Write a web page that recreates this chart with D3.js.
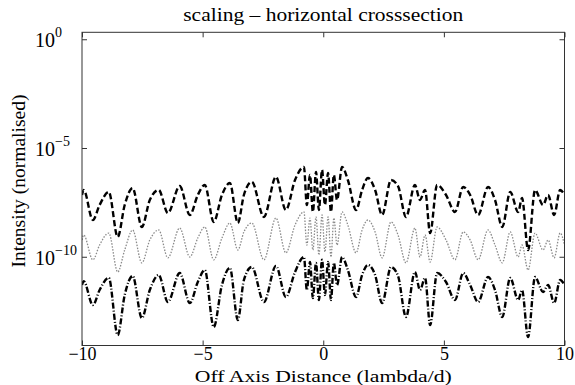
<!DOCTYPE html>
<html><head><meta charset="utf-8">
<script src="https://cdn.jsdelivr.net/npm/d3@7"></script>
<style>
html,body{margin:0;padding:0;background:#fff;}
svg{display:block;}
text{font-family:"Liberation Serif","Times New Roman",serif;fill:#000;}
</style></head>
<body>
<svg id="chart" width="575" height="385"></svg>
<script>
// Off-axis distance (lambda/d) sample positions
const xValues = [-10,-9.93,-9.55,-9.27,-8.89,-8.52,-8.23,-7.90,-7.52,-7.19,-6.82,-6.44,-5.95,-5.53,-5.20,-4.91,-4.54,-4.20,-3.87,-3.54,-3.29,-2.96,-2.46,-1.96,-1.55,-1.17,
 -0.80,-0.68,-0.55,-0.43,-0.30,-0.18,-0.05,0.07,0.20,0.32,0.44,0.57,0.78,1.02,1.36,1.61,1.85,2.15,2.44,2.81,3.10,3.43,3.80,4.01,4.22,4.43,
 4.72,5.09,5.46,5.80,6.09,6.42,6.83,7.12,7.42,7.75,8.08,8.24,8.49,8.78,9.11,9.32,9.57,9.82,10.0];
// log10 of normalised intensity
const upperLog10 = [-7.16,-6.93,-8.31,-7.62,-7.02,-9.09,-7.62,-6.84,-8.63,-7.39,-6.93,-7.99,-6.75,-8.08,-7.16,-6.70,-8.40,-7.16,-6.61,-8.45,-7.16,-6.56,-8.17,-6.33,-7.85,-6.47,
 -5.87,-7.62,-6.24,-7.94,-6.10,-7.85,-6.01,-7.62,-6.15,-7.94,-6.24,-7.39,-5.87,-6.47,-7.85,-6.93,-6.38,-6.93,-8.08,-6.47,-6.75,-8.17,-6.70,-7.39,-6.93,-8.91,
 -6.70,-7.16,-7.94,-6.79,-7.16,-8.08,-6.79,-7.39,-8.63,-7.02,-7.94,-7.30,-9.69,-6.93,-7.62,-7.16,-8.08,-6.93,-7.16];
const middleLog10 = [-9.23,-9.00,-10.14,-9.46,-8.91,-10.70,-9.69,-8.77,-10.28,-9.23,-8.77,-10.05,-8.68,-10.01,-9.14,-8.63,-10.14,-9.14,-8.45,-9.69,-8.86,-8.45,-10.14,-8.22,-9.82,-8.54,
 -7.94,-9.46,-8.22,-9.69,-8.17,-9.92,-8.08,-9.78,-8.17,-10.01,-8.22,-9.46,-7.94,-8.54,-9.82,-8.77,-8.31,-8.86,-10.05,-8.40,-9.00,-10.28,-8.68,-10.01,-9.00,-10.24,
 -8.63,-9.23,-10.14,-8.86,-9.23,-10.14,-8.77,-9.46,-10.28,-8.86,-10.01,-9.46,-10.61,-8.91,-9.69,-9.23,-10.05,-8.91,-9.46];
const lowerLog10 = [-11.30,-11.12,-12.22,-11.53,-10.97,-13.60,-11.76,-10.88,-12.82,-11.53,-10.84,-12.08,-10.75,-12.13,-11.16,-10.61,-13.23,-11.30,-10.51,-12.91,-11.07,-10.47,-12.08,-10.42,-11.85,-10.70,
 -10.01,-11.53,-10.24,-11.90,-10.28,-11.99,-10.14,-11.76,-10.24,-11.99,-10.28,-11.30,-10.01,-10.61,-11.85,-10.84,-10.38,-10.84,-12.13,-10.47,-10.88,-12.77,-10.70,-11.53,-10.97,-13.14,
 -10.75,-11.16,-11.99,-10.75,-11.30,-12.08,-10.93,-11.53,-12.77,-10.97,-11.99,-11.53,-13.69,-10.93,-11.62,-11.30,-12.13,-11.07,-11.30];

const xTicks = [-10,-5,0,5,10];
const xTickLabels = ["\u221210","\u22125","0","5","10"];
const yTicks = [1,1e-5,1e-10];
const yTickExponents = ["0","\u22125","\u221210"];
const titleText = "scaling \u2013 horizontal crosssection";
const xLabelText = "Off Axis Distance (lambda/d)";
const yLabelText = "Intensity (normalised)";

const L = 82, R = 564.5, T = 32.3, B = 345.5;
const svg = d3.select("#chart");
svg.append("rect").attr("width",575).attr("height",385).attr("fill","#fff");

const x = d3.scaleLinear().domain([-10,10]).range([L,R]);
const y = d3.scaleLog().domain([Math.pow(10,-14.08), Math.pow(10,0.32)]).range([B,T]);

const series = [
  {vals: upperLog10, color:"#000", width:2.4, dash:"6,3"},
  {vals: middleLog10, color:"#8a8a8a", width:1.3, dash:"1.5,1.5"},
  {vals: lowerLog10, color:"#000", width:2.4, dash:"6,2,1,2"}
];
svg.append("clipPath").attr("id","clip").append("rect")
  .attr("x",L).attr("y",T).attr("width",R-L).attr("height",B-T);
const gLines = svg.append("g").attr("clip-path","url(#clip)");
series.forEach(s=>{
  const pts = xValues.map((xv,i)=>[xv, Math.pow(10, s.vals[i])]);
  gLines.append("path").datum(pts)
    .attr("fill","none").attr("stroke",s.color).attr("stroke-width",s.width)
    .attr("stroke-dasharray",s.dash).attr("stroke-linejoin","round")
    .attr("d", d3.line().curve(d3.curveMonotoneX).x(d=>x(d[0])).y(d=>y(d[1])));
});

// box
svg.append("rect").attr("x",L).attr("y",T).attr("width",R-L).attr("height",B-T)
  .attr("fill","none").attr("stroke","#333").attr("stroke-width",1);

// axes with inward ticks
const axB = svg.append("g").attr("transform",`translate(0,${B})`)
  .call(d3.axisBottom(x).tickValues(xTicks).tickSize(-5).tickPadding(2).tickFormat((d,i)=>xTickLabels[i]));
const axT = svg.append("g").attr("transform",`translate(0,${T})`)
  .call(d3.axisTop(x).tickValues(xTicks).tickSize(-5).tickFormat(""));
const axL = svg.append("g").attr("transform",`translate(${L},0)`)
  .call(d3.axisLeft(y).tickValues(yTicks).tickSize(-5).tickFormat(""));
const axR = svg.append("g").attr("transform",`translate(${R},0)`)
  .call(d3.axisRight(y).tickValues(yTicks).tickSize(-5).tickFormat(""));
[axB,axT,axL,axR].forEach(a=>{
  a.select(".domain").remove();
  a.selectAll(".tick line").attr("stroke","#333");
});
axB.selectAll("text").attr("font-size",18).attr("font-family",'"Liberation Serif",serif').attr("fill","#000");

// y tick labels with superscripts
yTicks.forEach((v,i)=>{
  const t = svg.append("text").attr("x",35).attr("y",y(v)+8).attr("text-anchor","start")
    .attr("font-size",20);
  t.append("tspan").text("10");
  t.append("tspan").attr("font-size",14).attr("dy",-10).text(yTickExponents[i]);
});

svg.append("text").attr("x",(L+R)/2).attr("y",21).attr("text-anchor","middle")
  .attr("font-size",18).attr("textLength",280).attr("lengthAdjust","spacingAndGlyphs").text(titleText);
svg.append("text").attr("x",(L+R)/2).attr("y",382).attr("text-anchor","middle")
  .attr("font-size",17).attr("textLength",257).attr("lengthAdjust","spacingAndGlyphs").text(xLabelText);
svg.append("text").attr("transform",`translate(25,181) rotate(-90)`)
  .attr("text-anchor","middle").attr("font-size",18).attr("textLength",173).attr("lengthAdjust","spacingAndGlyphs").text(yLabelText);
</script>
</body></html>
